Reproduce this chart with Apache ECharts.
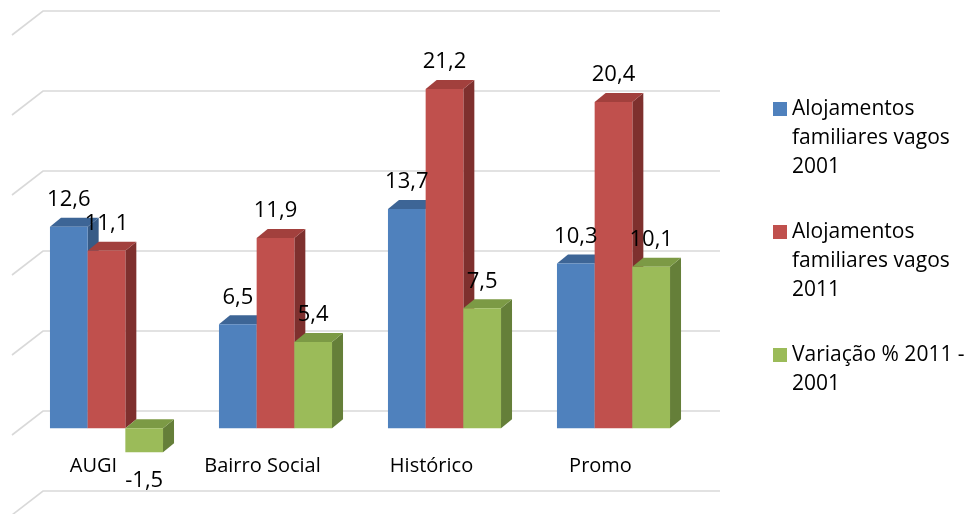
<!DOCTYPE html>
<html><head><meta charset="utf-8">
<script src="https://cdn.jsdelivr.net/npm/echarts@6/dist/echarts.min.js"></script>
<style>html,body{margin:0;padding:0;background:#fff}#c{width:968px;height:514px}</style>
</head><body><div id="c"></div>
<script>
// ---- data ----
const categories = ['AUGI', 'Bairro Social', 'Histórico', 'Promo'];
const seriesNames = ['Alojamentos\nfamiliares vagos\n2001', 'Alojamentos\nfamiliares vagos\n2011', 'Variação % 2011 -\n2001'];
const vagos2001 = [12.6, 6.5, 13.7, 10.3];
const vagos2011 = [11.1, 11.9, 21.2, 20.4];
const variacao = [-1.5, 5.4, 7.5, 10.1];
const gridValues = [-5, 0, 5, 10, 15, 20, 25];

// ---- styles ----
const STYLES = [
  { front: '#4f81bd', top: '#3d6596', side: '#375b86' },
  { front: '#c0504d', top: '#a2403d', side: '#7e302e' },
  { front: '#9bbb59', top: '#7c9a45', side: '#657f39' }
];
const BAR_FRAC = 0.223, DX = 11, DY = -9;
const FONT = '"Open Sans", "Noto Sans", sans-serif';

function fmt(v) { return String(v).replace('.', ','); }

function makeBarRender(k) {
  return function (params, api) {
    const cat = api.value(0), val = api.value(1);
    const base = api.coord([cat, 0]);
    const tip = api.coord([cat, val]);
    const band = api.size([1, 0])[0];
    const bw = band * BAR_FRAC;
    const x0 = base[0] + (k - 1.5) * bw;
    const yT = Math.min(base[1], tip[1]), yB = Math.max(base[1], tip[1]);
    const st = STYLES[k];
    return {
      type: 'group',
      children: [
        { type: 'polygon', shape: { points: [[x0 + bw, yT], [x0 + bw + DX, yT + DY], [x0 + bw + DX, yB + DY], [x0 + bw, yB]] }, style: { fill: st.side } },
        { type: 'polygon', shape: { points: [[x0, yT], [x0 + DX, yT + DY], [x0 + bw + DX, yT + DY], [x0 + bw, yT]] }, style: { fill: st.top } },
        { type: 'rect', shape: { x: x0, y: yT, width: bw, height: yB - yT }, style: { fill: st.front } },
        { type: 'text', z2: 100, x: x0 + bw / 2, y: val >= 0 ? yT - 27 : yB + 28,
          style: { text: fmt(val), align: 'center', verticalAlign: 'middle', fontSize: 22, fontFamily: FONT, fill: '#000' } }
      ]
    };
  };
}

const seriesValues = [vagos2001, vagos2011, variacao];

const chart = echarts.init(document.getElementById('c'), null, { renderer: 'canvas' });

function legendFor(i, top) {
  return {
    data: [seriesNames[i]], orient: 'vertical', left: 773, top: top, padding: 0,
    itemWidth: 14, itemHeight: 14, icon: 'rect', itemGap: 0, selectedMode: false,
    formatter: function (name) {
      const n = name.split('\n').length;
      return '\n'.repeat(n - 1) + name;
    },
    textStyle: { fontSize: 21, fontFamily: FONT, color: '#000', lineHeight: 29 }
  };
}

chart.setOption({
  animation: false,
  backgroundColor: '#fff',
  legend: [legendFor(0, 36.5), legendFor(1, 159.5), legendFor(2, 311.5)],
  grid: [
    { left: 22, right: 270, top: 28.3, bottom: 5.7, outerBoundsMode: 'none', containLabel: false },
    { left: 43, right: 248, top: 11, bottom: 23, outerBoundsMode: 'none', containLabel: false }
  ],
  xAxis: [
    { type: 'category', gridIndex: 0, data: categories, position: 'bottom', offset: -80,
      axisLine: { show: false, onZero: false }, axisTick: { show: false }, splitLine: { show: false },
      axisLabel: { fontSize: 20, fontFamily: FONT, color: '#000', margin: 37.7, verticalAlign: 'middle', padding: [0, 26, 0, 0] } },
    { type: 'value', gridIndex: 1, min: 0, max: 1, show: false }
  ],
  yAxis: [
    { type: 'value', gridIndex: 0, min: -5, max: 25, interval: 5, show: false },
    { type: 'value', gridIndex: 1, min: -5, max: 25, interval: 5, show: false }
  ],
  series: [
    { type: 'custom', name: 'grid', xAxisIndex: 1, yAxisIndex: 1, silent: true, z: 1,
      data: gridValues.map(v => [0, v]),
      renderItem: function (params, api) {
        const v = api.value(1);
        const l = api.coord([0, v]), r = api.coord([1, v]);
        return { type: 'polyline', shape: { points: [[l[0] - 31, l[1] + 24], l, r] },
                 style: { stroke: '#d9d9d9', lineWidth: 1.6, fill: null } };
      } }
  ].concat(seriesValues.map((vals, k) => ({
    type: 'custom', name: seriesNames[k], xAxisIndex: 0, yAxisIndex: 0, z: 2,
    itemStyle: { color: STYLES[k].front },
    data: vals.map((v, i) => [i, v]),
    encode: { x: 0, y: 1 },
    renderItem: makeBarRender(k)
  })))
});
</script></body></html>
